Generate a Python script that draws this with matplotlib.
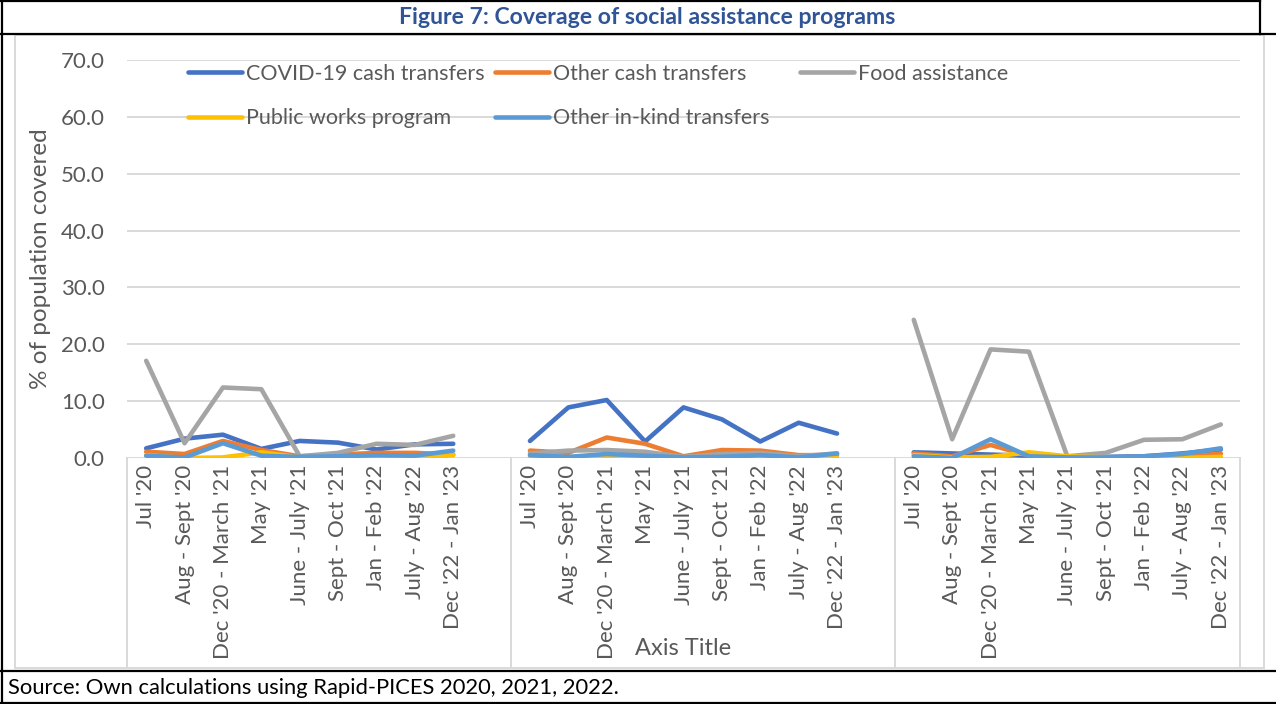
import numpy as np
import matplotlib
matplotlib.use("Agg")
import matplotlib.pyplot as plt
from matplotlib.lines import Line2D
from matplotlib.patches import Rectangle
import matplotlib.transforms as mtransforms

# ---------------- data ----------------
periods = ["Jul '20", "Aug - Sept '20", "Dec '20 - March '21", "May '21",
           "June - July '21", "Sept - Oct '21", "Jan - Feb '22",
           "July - Aug '22", "Dec '22 - Jan '23"]

series_names = ["COVID-19 cash transfers", "Other cash transfers", "Food assistance",
                "Public works program", "Other in-kind transfers"]

covid_g1 = [1.7, 3.4, 4.1, 1.6, 3.0, 2.7, 1.5, 2.4, 2.5]
covid_g2 = [3.0, 8.9, 10.2, 2.9, 8.9, 6.8, 2.9, 6.2, 4.3]
covid_g3 = [1.0, 0.8, 0.6, 0.4, 0.1, 0.2, 0.3, 0.8, 1.5]

othercash_g1 = [1.1, 0.7, 3.0, 1.4, 0.3, 0.6, 0.9, 0.9, 0.6]
othercash_g2 = [1.3, 0.9, 3.6, 2.5, 0.3, 1.4, 1.3, 0.5, 0.5]
othercash_g3 = [0.8, 0.3, 2.3, 0.4, 0.1, 0.1, 0.2, 0.1, 0.8]

food_g1 = [17.1, 2.6, 12.4, 12.1, 0.3, 0.9, 2.5, 2.3, 3.9]
food_g2 = [0.8, 1.3, 1.4, 1.1, 0.2, 0.7, 0.9, 0.3, 0.8]
food_g3 = [24.3, 3.3, 19.1, 18.7, 0.3, 0.9, 3.2, 3.3, 5.9]

publicworks_g1 = [0.5, 0.0, 0.1, 1.0, 0.1, 0.1, 0.1, 0.0, 0.5]
publicworks_g2 = [0.1, 0.0, 0.3, 0.1, 0.0, 0.0, 0.1, 0.0, 0.0]
publicworks_g3 = [0.5, 0.1, 0.2, 1.0, 0.3, 0.1, 0.0, 0.0, 0.2]

inkind_g1 = [0.4, 0.1, 2.6, 0.4, 0.2, 0.3, 0.5, 0.4, 1.3]
inkind_g2 = [0.5, 0.2, 0.7, 0.4, 0.1, 0.2, 0.5, 0.1, 0.8]
inkind_g3 = [0.3, 0.0, 3.3, 0.3, 0.1, 0.1, 0.3, 0.7, 1.7]

colors = ["#4472C4", "#ED7D31", "#A5A5A5", "#FFC000", "#5B9BD5"]

yticks = [0, 10, 20, 30, 40, 50, 60, 70]

title = "Figure 7: Coverage of social assistance programs"
source = "Source: Own calculations using Rapid-PICES 2020, 2021, 2022."

# ---------------- build category axis (3 groups, blank slot between) ----------------
def join(g1, g2, g3):
    return np.array(list(g1) + [np.nan] + list(g2) + [np.nan] + list(g3), dtype=float)

all_series = [join(covid_g1, covid_g2, covid_g3),
              join(othercash_g1, othercash_g2, othercash_g3),
              join(food_g1, food_g2, food_g3),
              join(publicworks_g1, publicworks_g2, publicworks_g3),
              join(inkind_g1, inkind_g2, inkind_g3)]
labels = periods + [""] + periods + [""] + periods
x = np.arange(len(labels))

# ---------------- figure ----------------
W, H = 1276, 704
fig = plt.figure(figsize=(W / 100, H / 100), dpi=100)
fx = lambda px: px / W
fy = lambda py: 1 - py / H

FONT = ["Lato", "DejaVu Sans"]
GRAY = "#595959"
GRID = "#D9D9D9"

ax = fig.add_axes([fx(127), fy(458), fx(1240) - fx(127), fy(60) - fy(458)])
ax.set_facecolor("none")

handles = []
for vals, name, c in zip(all_series, series_names, colors):
    h, = ax.plot(x, vals, color=c, lw=3.3, solid_capstyle="round",
                 solid_joinstyle="round", label=name, zorder=3)
    handles.append(h)

ax.set_xlim(-0.5, len(labels) - 0.5)
ax.set_ylim(0, 70)
ax.set_yticks(yticks)
ax.set_yticklabels([f"{v:.1f}" for v in yticks], family=FONT, fontsize=16, color=GRAY)
ax.set_xticks(x)
ax.set_xticklabels(labels, rotation=90, family=FONT, fontsize=16, color=GRAY,
                   va="top", ha="center")
ax.tick_params(axis="both", length=0)
ax.tick_params(axis="y", pad=16)
ax.tick_params(axis="x", pad=5)
for s in ax.spines.values():
    s.set_visible(False)
ax.yaxis.grid(True, color=GRID, lw=1.4, zorder=0)
ax.set_axisbelow(True)

# group separators of the multi-level category axis
trans = mtransforms.blended_transform_factory(ax.transData, ax.transAxes)
for xs in [-0.5, 9.5, 19.5, len(labels) - 0.5]:
    ax.plot([xs, xs], [0, -(668 - 458) / 398], transform=trans, clip_on=False,
            color=GRID, lw=1.4, zorder=1)

ax.set_ylabel("% of population covered", family=FONT, fontsize=17.5, color=GRAY)
ax.yaxis.set_label_coords((51 - 127) / 1113, 0.5)
ax.set_xlabel("Axis Title", family=FONT, fontsize=17, color=GRAY)
ax.xaxis.set_label_coords(0.5, -(638 - 458) / 398)
ax.xaxis.label.set_va("top")

# legend in three columns
cols = [([handles[0], handles[3]], 188), ([handles[1], handles[4]], 495), ([handles[2]], 800)]
for hs, px in cols:
    leg = fig.legend(handles=hs, labels=[h.get_label() for h in hs],
                     loc="upper left", bbox_to_anchor=(fx(px), fy(64)),
                     bbox_transform=fig.transFigure, frameon=False,
                     prop={"family": FONT, "size": 15.5}, labelcolor=GRAY,
                     handlelength=2.5, handletextpad=0.2, labelspacing=1.12,
                     borderpad=0, borderaxespad=0)
    for ln in leg.get_lines():
        ln.set_linewidth(3.3)

# chart area border
fig.add_artist(Rectangle((fx(15), fy(668)), fx(1264) - fx(15), fy(35) - fy(668),
                         transform=fig.transFigure, fill=False, edgecolor=GRID, lw=1.4))

# table cell borders (black)
def hline(py, x0, x1):
    fig.add_artist(Line2D([fx(x0), fx(x1)], [fy(py), fy(py)], color="black", lw=1.6,
                          transform=fig.transFigure))
def vline(px, y0, y1):
    fig.add_artist(Line2D([fx(px), fx(px)], [fy(y0), fy(y1)], color="black", lw=1.6,
                          transform=fig.transFigure))

hline(1, 0, 1260)
vline(1260, 0, 34)
hline(34, 0, 1276)
hline(671, 0, 1276)
hline(703, 0, 1276)
vline(1.5, 0, 704)

fig.text(fx(647), fy(17), title, ha="center", va="center", family=FONT,
         fontsize=16.6, fontweight="bold", color="#2F5597")
fig.text(fx(8), fy(688), source, ha="left", va="center", family=FONT,
         fontsize=15.8, color="black")

fig.savefig("out.png", dpi=100)
